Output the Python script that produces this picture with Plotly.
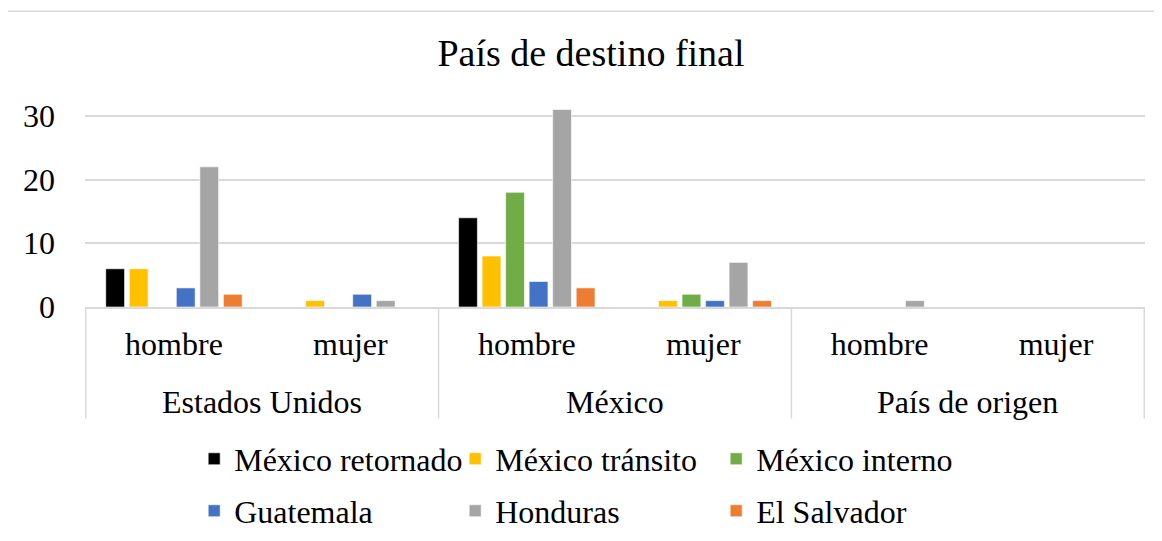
import plotly.graph_objects as go

countries = ["Estados Unidos", "México", "País de origen"]
genders = ["hombre", "mujer"]

series_names = ["México retornado", "México tránsito", "México interno",
                "Guatemala", "Honduras", "El Salvador"]
# values in order: EU-hombre, EU-mujer, MX-hombre, MX-mujer, PO-hombre, PO-mujer
mexico_retornado = [6, 0, 14, 0, 0, 0]
mexico_transito = [6, 1, 8, 1, 0, 0]
mexico_interno = [0, 0, 18, 2, 0, 0]
guatemala = [3, 2, 4, 1, 0, 0]
honduras = [22, 1, 31, 7, 1, 0]
el_salvador = [2, 0, 3, 1, 0, 0]
series_values = [mexico_retornado, mexico_transito, mexico_interno,
                 guatemala, honduras, el_salvador]
colors = ["#000000", "#FFC000", "#70AD47", "#4472C4", "#A5A5A5", "#ED7D31"]

y_ticks = [0, 10, 20, 30]

FONT = "Liberation Serif"
GRID = "#D9D9D9"

# category keys (country | gender) and their inner-level labels
cat_keys = [f"{c}|{g}" for c in countries for g in genders]
cat_labels = [g for c in countries for g in genders]
n_g = len(genders)

fig = go.Figure()
for i, (name, vals, col) in enumerate(zip(series_names, series_values, colors)):
    fig.add_trace(go.Bar(
        name=name,
        x=cat_keys,
        y=vals,
        marker=dict(color=col, line=dict(color="rgba(255,255,255,0.6)", width=1)),
        legend="legend" if i < 3 else "legend2",
    ))

fig.update_layout(
    width=1162, height=541,
    margin=dict(l=77, r=25, t=76, b=241),
    paper_bgcolor="white", plot_bgcolor="white",
    font=dict(family=FONT, size=32, color="black"),
    title=dict(text="País de destino final", x=0.5017, xanchor="center",
               y=0.918, yanchor="middle", font=dict(family=FONT, size=38, color="black")),
    barmode="group", bargap=0.2, bargroupgap=0.2,
    showlegend=True,
    legend=dict(orientation="h", x=0.103, xanchor="left", y=-0.674, yanchor="middle",
                entrywidth=216, entrywidthmode="pixels", font=dict(size=32),
                traceorder="normal"),
    legend2=dict(orientation="h", x=0.103, xanchor="left", y=-0.906, yanchor="middle",
                 entrywidth=216, entrywidthmode="pixels", font=dict(size=32),
                 traceorder="normal"),
)

fig.update_yaxes(range=[0, 35], tickvals=y_ticks, showgrid=True, gridcolor=GRID,
                 gridwidth=1.5, zeroline=False, showline=False, ticks="",
                 ticklabelstandoff=29, tickfont=dict(size=32), automargin=False)
fig.update_xaxes(type="category", tickvals=cat_keys, ticktext=cat_labels,
                 showline=True, linecolor=GRID, linewidth=1.5, showgrid=False,
                 ticks="", ticklabelstandoff=8, tickfont=dict(size=32), automargin=False)

# outer category labels and dividers on the category scale
for gi, c in enumerate(countries):
    fig.add_annotation(x=gi * n_g + (n_g - 1) / 2, xref="x", y=-0.428, yref="paper",
                       text=c, showarrow=False, yanchor="middle",
                       font=dict(family=FONT, size=32, color="black"))
for b in range(len(countries) + 1):
    fig.add_shape(type="line", xref="x", yref="paper", x0=b * n_g - 0.5, x1=b * n_g - 0.5,
                  y0=0, y1=-0.5, line=dict(color=GRID, width=1.5))

# chart border
fig.add_shape(type="line", xref="paper", yref="paper", x0=-0.0736, x1=1.2,
              y0=1.326, y1=1.326, line=dict(color=GRID, width=1.5))
fig.add_shape(type="line", xref="paper", yref="paper", x0=-0.0736, x1=-0.0736,
              y0=1.326, y1=-1.2, line=dict(color=GRID, width=1.5))

fig.write_html("out.html")
